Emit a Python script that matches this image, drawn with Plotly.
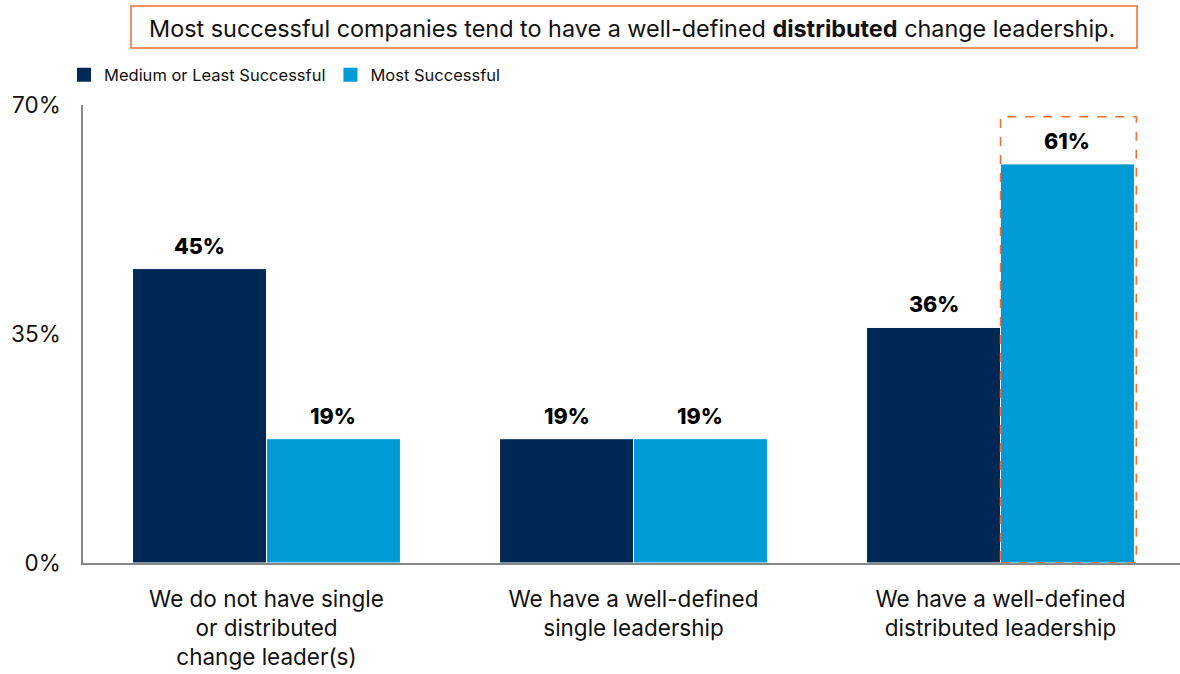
import plotly.graph_objects as go

categories = [
    "We do not have single<br>or distributed<br>change leader(s)",
    "We have a well-defined<br>single leadership",
    "We have a well-defined<br>distributed leadership",
]
series_names = ["Medium or Least Successful", "Most Successful"]
medium_values = [45, 19, 36]
most_values = [19, 19, 61]
y_tick_vals = [0, 35, 70]
y_tick_text = ["0%", "35%", "70%"]
highlight_index = 2

DARK = "#002855"
LIGHT = "#009BD7"
ORANGE = "#F26B35"
FONT = "Inter"

W, H = 1180, 674
ml, mr, mt, mb = 83, 0, 105, 111
plot_w = W - ml - mr
plot_h = H - mt - mb
cat_px = 367
xr = [-0.5, -0.5 + plot_w / cat_px]
bargap = 0.27
bw = (1 - bargap) / 2

xs = list(range(len(categories)))

fig = go.Figure()
fig.add_trace(go.Bar(x=xs, y=medium_values, name=series_names[0], showlegend=False,
                     marker=dict(color=DARK, line=dict(color="white", width=1))))
fig.add_trace(go.Bar(x=xs, y=most_values, name=series_names[1], showlegend=False,
                     marker=dict(color=LIGHT, line=dict(color="white", width=1))))
# legend entries with larger square swatches
for name, col in ((series_names[0], DARK), (series_names[1], LIGHT)):
    fig.add_trace(go.Scatter(x=[None], y=[None], mode="markers", name=name,
                             marker=dict(symbol="square", size=14, color=col)))

annotations = []
for i in xs:
    for off, vals in ((-bw / 2, medium_values), (bw / 2, most_values)):
        annotations.append(dict(x=i + off, y=vals[i], xref="x", yref="y",
                                text=f"{vals[i]}%", showarrow=False,
                                yanchor="bottom", yshift=8,
                                font=dict(family=FONT, size=21.5, color="#000", weight=800)))

def px_to_paper_x(px):
    return (px - ml) / plot_w

def px_to_paper_y(py):
    return (H - mb - py) / plot_h

annotations.append(dict(
    x=px_to_paper_x(632), y=px_to_paper_y(28), xref="paper", yref="paper",
    text="Most successful companies tend to have a well-defined <b>distributed</b> change leadership.",
    showarrow=False, xanchor="center", yanchor="middle",
    font=dict(family=FONT, size=23.4, color="#111")))

shapes = [
    dict(type="rect", xref="paper", yref="paper",
         x0=px_to_paper_x(131), x1=px_to_paper_x(1137),
         y0=px_to_paper_y(48), y1=px_to_paper_y(6),
         line=dict(color=ORANGE, width=1.5), fillcolor="rgba(0,0,0,0)"),
    dict(type="rect", xref="x", yref="y",
         x0=highlight_index, x1=highlight_index + bw + 0.005,
         y0=0, y1=most_values[highlight_index] + 7.2,
         line=dict(color=ORANGE, width=1.5, dash="dash"), fillcolor="rgba(0,0,0,0)"),
]

fig.update_layout(
    width=W, height=H,
    margin=dict(l=ml, r=mr, t=mt, b=mb),
    paper_bgcolor="white", plot_bgcolor="white",
    barmode="group", bargap=bargap, bargroupgap=0,
    font=dict(family=FONT, color="#111"),
    showlegend=True,
    legend=dict(orientation="h", x=px_to_paper_x(64), y=px_to_paper_y(75),
                xanchor="left", yanchor="middle",
                font=dict(family=FONT, size=16.5, color="#111"),
                itemwidth=30, traceorder="normal"),
    annotations=annotations,
    shapes=shapes,
    xaxis=dict(range=xr, tickmode="array", tickvals=xs, ticktext=categories,
               showline=True, linecolor="#888", linewidth=1.5,
               showgrid=False, zeroline=False, ticks="", automargin=False,
               ticklabelstandoff=15,
               tickfont=dict(family=FONT, size=22.5, color="#111"), fixedrange=True),
    yaxis=dict(range=[0, 70], tickmode="array", tickvals=y_tick_vals, ticktext=y_tick_text,
               showline=True, linecolor="#888", linewidth=1.5,
               showgrid=False, zeroline=False, ticks="", automargin=False,
               ticklabelstandoff=16,
               tickfont=dict(family=FONT, size=22.5, color="#111"), fixedrange=True),
)

fig.write_html("out.html")
